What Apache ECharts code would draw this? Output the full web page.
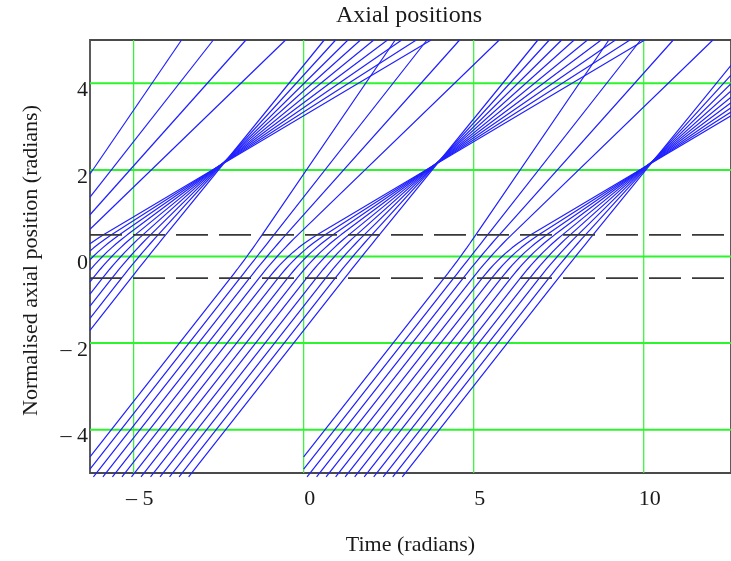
<!DOCTYPE html>
<html><head><meta charset="utf-8">
<script src="https://cdn.jsdelivr.net/npm/echarts@6/dist/echarts.min.js"></script>
<style>html,body{margin:0;padding:0;background:#fff}#c{width:731px;height:561px}</style>
</head><body><div id="c"></div>
<script>
// ---- data ----
const xTicks = [-5, 0, 5, 10];
const yTicks = [-4, -2, 0, 2, 4];
const gapEdges = [-0.5, 0.5];
// time (radians) at which each drawn electron reaches the gap entrance z = -0.5 (cycle starting at t = 0)
const gapEntryTimes = [4.13, 4.41, 4.69, 4.97, 5.25, 5.53, 5.81, 6.09, 6.37, 6.65, 6.93, 7.21, 7.49];
// normalised velocity of each electron after leaving the gap (1 = unmodulated)
const exitSpeeds = [1.15, 1.0, 0.88, 0.76, 0.467, 0.502, 0.542, 0.588, 0.641, 0.703, 0.775, 0.862, 0.965];
// start time of each plotted cycle (cycles repeat every 2*pi)
const cycleStarts = [-4 * Math.PI, -2 * Math.PI, 0];
const tRange = [-2 * Math.PI, 4 * Math.PI];
const zRange = [-5, 5];

// ---- trajectory geometry ----
function trajectory(entry, v) {
  const pts = [[entry - 30, -30.5], [entry, -0.5]];
  const n = 10;
  for (let i = 1; i <= n; i++) {
    const s = i / n;
    const dt = Math.abs(v - 1) < 1e-6 ? s : Math.log(1 + (v - 1) * s) / (v - 1);
    pts.push([entry + dt, -0.5 + s]);
  }
  const last = pts[pts.length - 1];
  pts.push([last[0] + 30 / v, last[1] + 30]);
  return pts;
}
function clipSegment(a, b, r) {
  let u0 = 0, u1 = 1;
  const dx = b[0] - a[0], dy = b[1] - a[1];
  const P = [-dx, dx, -dy, dy];
  const Q = [a[0] - r.x0, r.x1 - a[0], a[1] - r.y0, r.y1 - a[1]];
  for (let i = 0; i < 4; i++) {
    if (P[i] === 0) { if (Q[i] < 0) return null; }
    else {
      const u = Q[i] / P[i];
      if (P[i] < 0) { if (u > u1) return null; if (u > u0) u0 = u; }
      else { if (u < u0) return null; if (u < u1) u1 = u; }
    }
  }
  return [[a[0] + u0 * dx, a[1] + u0 * dy], [a[0] + u1 * dx, a[1] + u1 * dy]];
}
function clipPolyline(pts, r) {
  const out = [];
  for (let i = 0; i < pts.length - 1; i++) {
    const s = clipSegment(pts[i], pts[i + 1], r);
    if (!s) continue;
    for (const p of s) {
      const l = out[out.length - 1];
      if (!l || Math.abs(l[0] - p[0]) > 1e-9 || Math.abs(l[1] - p[1]) > 1e-9) out.push(p);
    }
  }
  return out;
}

const series = [];
// green grid lines
xTicks.forEach(x => series.push({
  type: 'line', data: [[x, zRange[0]], [x, zRange[1]]], showSymbol: false, silent: true, z: 1,
  lineStyle: { color: '#2df52d', width: 1.2 }
}));
yTicks.forEach(y => series.push({
  type: 'line', data: [[tRange[0], y], [tRange[1], y]], showSymbol: false, silent: true, z: 1,
  lineStyle: { color: '#2df52d', width: 2 }
}));
// electron trajectories
cycleStarts.forEach(c => {
  gapEntryTimes.forEach((e, k) => {
    const pts = trajectory(e + c, exitSpeeds[k]);
    const data = clipPolyline(pts, { x0: Math.max(c, tRange[0]), x1: tRange[1], y0: zRange[0] - 0.09, y1: zRange[1] });
    if (data.length < 2) return;
    series.push({
      type: 'line', data, showSymbol: false, silent: true, clip: false, z: 3,
      lineStyle: { color: '#2020ff', width: 1.2 }
    });
  });
});
// gap boundaries
gapEdges.forEach(g => series.push({
  type: 'line', data: [[tRange[0], g], [tRange[1], g]], showSymbol: false, silent: true, z: 4,
  lineStyle: { color: '#383838', width: 1.8, type: [32, 11] }
}));

const font = 'Liberation Serif';
const txt = '#1a1a1a';
const chart = echarts.init(document.getElementById('c'), null, { renderer: 'canvas' });
chart.setOption({
  animation: false,
  backgroundColor: '#fff',
  title: {
    text: 'Axial positions', left: 404, top: -1, textAlign: 'center',
    textStyle: { fontFamily: font, fontSize: 24, fontWeight: 'normal', color: txt }
  },
  grid: { left: 90, top: 40, width: 645, height: 435, show: true, borderColor: '#4a4a4a', borderWidth: 1.8, backgroundColor: 'transparent' },
  xAxis: {
    type: 'value', min: tRange[0], max: tRange[1],
    name: 'Time (radians)', nameLocation: 'middle', nameGap: 61,
    nameTextStyle: { fontFamily: font, fontSize: 22, color: txt },
    axisLine: { show: false }, axisTick: { show: false }, splitLine: { show: false },
    axisLabel: {
      customValues: xTicks, fontFamily: font, fontSize: 22, color: txt, margin: 15,
      padding: [0, 0, 0, 12],
      formatter: v => (v < 0 ? '\u2013 ' + Math.abs(v) : String(v))
    }
  },
  yAxis: {
    type: 'value', min: zRange[0], max: zRange[1],
    name: 'Normalised axial position (radians)', nameLocation: 'middle', nameGap: 48,
    nameTextStyle: { fontFamily: font, fontSize: 22, color: txt, padding: [0, 8, 0, 0] },
    axisLine: { show: false }, axisTick: { show: false }, splitLine: { show: false },
    axisLabel: {
      customValues: yTicks, fontFamily: font, fontSize: 22, color: txt, margin: 2,
      verticalAlign: 'top', lineHeight: 14,
      formatter: v => (v < 0 ? '\u2013 ' + Math.abs(v) : String(v))
    }
  },
  series
});
</script></body></html>
